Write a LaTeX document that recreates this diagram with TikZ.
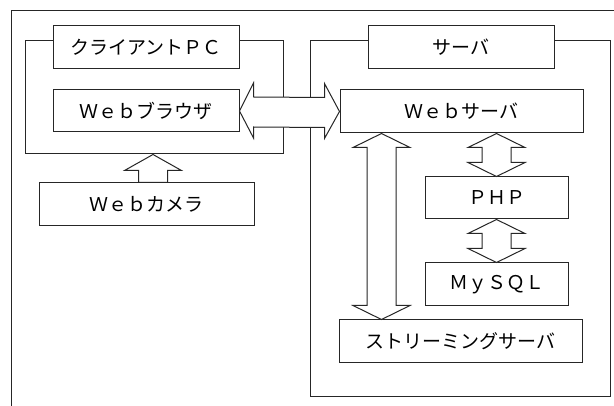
\documentclass[tikz,border=0pt]{standalone}
\usepackage{fontspec}
\newfontfamily\jp{Noto Sans CJK JP}
\usetikzlibrary{calc}
% vertical double arrow between two named coordinates (top tip, bottom tip)
\newcommand\myvdarrow[2]{%
  \draw[arr] (#1) -- ++(28.5,14) -- ++(-14,0) -- ($(#2)+(14.5,-14)$) -- ++(14,0) -- (#2)
    -- ++(-28.5,-14) -- ++(14,0) -- ($(#1)+(-14.5,14)$) -- ++(-14,0) -- cycle;}
\begin{document}
\begin{tikzpicture}[x=1pt,y=-1pt,
  ln/.style={draw=black!85,line width=1pt},
  box/.style={ln,fill=white,inner sep=0pt,font=\jp\fontsize{19}{22}\selectfont},
  grp/.style={ln,inner sep=0pt},
  arr/.style={ln,fill=white,line join=miter}]
\useasboundingbox (0,0) rectangle (614,406);
% outer frame (partial)
\draw[ln] (614,11) coordinate (ftr) -- (11,11) coordinate (ftl) -- (11,406) coordinate (fbl);
% groups
\node[grp,minimum width=258,minimum height=113] (client) at (154,97.5) {};
\node[grp,minimum width=300,minimum height=356] (server) at (460,219) {};
% labels and boxes
\node[box,minimum width=186,minimum height=43] (clientlabel) at (146,47.5) {クライアントＰＣ};
\node[box,minimum width=186,minimum height=42] (browser) at (146,111) {Ｗｅｂブラウザ};
\node[box,minimum width=215,minimum height=43] (camera) at (146.5,204.5) {Ｗｅｂカメラ};
\node[box,minimum width=186,minimum height=43] (serverlabel) at (461,47.5) {サーバ};
\node[box,minimum width=243,minimum height=43] (webserver) at (461.5,111.5) {Ｗｅｂサーバ};
\node[box,minimum width=143,minimum height=42] (php) at (496.5,198) {ＰＨＰ};
\node[box,minimum width=143,minimum height=43] (mysql) at (496.5,284.5) {ＭｙＳＱＬ};
\node[box,minimum width=243,minimum height=43] (streaming) at (460.5,341.5) {ストリーミングサーバ};
% browser <-> webserver
\draw[arr] (browser.east) -- ++(14,-28) -- ++(0,14)
  -- ($(webserver.west)+(-15,-14)$) -- ++(0,-14) -- (webserver.west)
  -- ++(-15,27) -- ++(0,-11) -- ($(browser.east)+(14,16)$) -- ++(0,11) -- cycle;
% camera -> client
\coordinate (camtip) at ($(client.south)+(-1,0)$);
\coordinate (cambase) at (camtip |- camera.north);
\draw[arr] (camtip) -- ++(28.5,16) -- ++(-14,0) -- ($(cambase)+(14.5,0)$)
  -- ($(cambase)+(-14.5,0)$) -- ($(camtip)+(-14.5,16)$) -- ++(-14,0) -- cycle;
% webserver <-> streaming
\coordinate (wst) at ($(webserver.south west)+(42,0)$);
\coordinate (wsb) at (wst |- streaming.north);
\myvdarrow{wst}{wsb}
% webserver <-> php
\coordinate (wpt) at (php.north |- webserver.south);
\myvdarrow{wpt}{php.north}
% php <-> mysql
\myvdarrow{php.south}{mysql.north}
\end{tikzpicture}
\end{document}
